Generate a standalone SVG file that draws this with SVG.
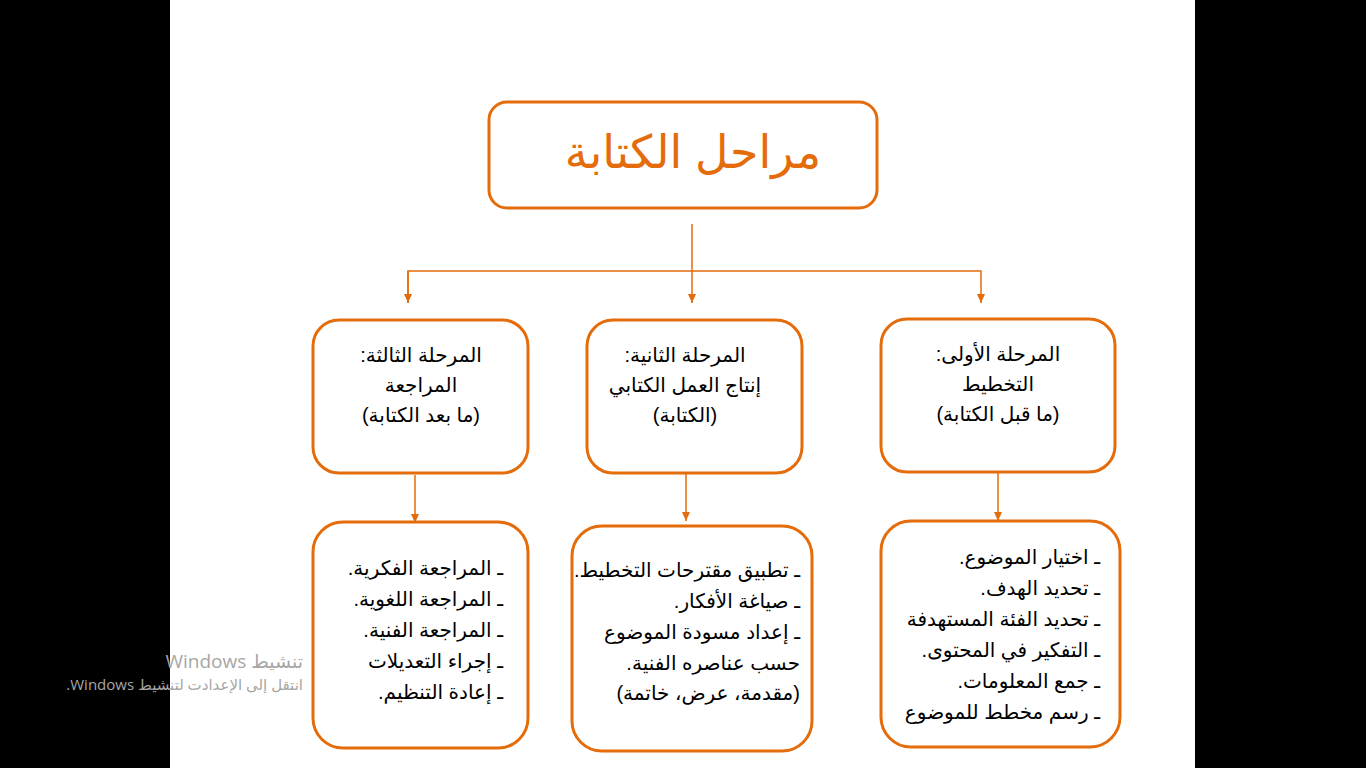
<svg xmlns="http://www.w3.org/2000/svg" width="1366" height="768" viewBox="0 0 1366 768">
<style>
.box{fill:#ffffff;stroke:#E46C0A;stroke-width:3}
.ln{fill:none;stroke:#E46C0A;stroke-width:1.5}
.t{font-family:"Liberation Sans","DejaVu Sans",sans-serif;font-size:20px;fill:#000000;direction:rtl}
.c{text-anchor:middle}
.r{text-anchor:start}
.title{font-family:"Liberation Sans","DejaVu Sans",sans-serif;font-size:46px;fill:#E46C0A;text-anchor:middle;direction:rtl}
.wm{font-family:"Open Sans","DejaVu Sans",sans-serif;fill:#a6a6a6;direction:rtl;text-anchor:start}
</style>
<defs>
<marker id="ad" markerWidth="10" markerHeight="10" refX="5" refY="10" markerUnits="userSpaceOnUse" viewBox="0 0 10 10">
<path d="M1,1 L9,1 L5,10 Z" fill="#E46C0A"/>
</marker>
</defs>
<rect x="0" y="0" width="1366" height="768" fill="#000000"/>
<rect x="170" y="0" width="1025" height="768" fill="#ffffff"/>

<g id="connectors">
<line class="ln" x1="692" y1="224" x2="692" y2="303" marker-end="url(#ad)"/>
<polyline class="ln" points="408,303 408,271 981,271 981,303" marker-end="url(#ad)"/>
<line class="ln" x1="408" y1="271" x2="408" y2="303" marker-end="url(#ad)"/>
<line class="ln" x1="415" y1="475" x2="415" y2="523" marker-end="url(#ad)"/>
<line class="ln" x1="686" y1="474" x2="686" y2="521" marker-end="url(#ad)"/>
<line class="ln" x1="998" y1="473" x2="998" y2="521" marker-end="url(#ad)"/>
</g>

<g id="title">
<rect class="box" x="489" y="102" width="388" height="106" rx="18"/>
<text class="title" x="693" y="168">مراحل الكتابة</text>
</g>

<g id="stage3">
<rect class="box" x="313" y="320" width="215" height="153" rx="26"/>
<text class="t c" x="421" y="362">المرحلة الثالثة:</text>
<text class="t c" x="421" y="392">المراجعة</text>
<text class="t c" x="421" y="422">(ما بعد الكتابة)</text>
</g>

<g id="stage2">
<rect class="box" x="587" y="320" width="215" height="153" rx="26"/>
<text class="t c" x="685" y="362">المرحلة الثانية:</text>
<text class="t c" x="685" y="392">إنتاج العمل الكتابي</text>
<text class="t c" x="685" y="422">(الكتابة)</text>
</g>

<g id="stage1">
<rect class="box" x="881" y="319" width="234" height="153" rx="26"/>
<text class="t c" x="998" y="361">المرحلة الأولى:</text>
<text class="t c" x="998" y="391">التخطيط</text>
<text class="t c" x="998" y="421">(ما قبل الكتابة)</text>
</g>

<g id="details3">
<rect class="box" x="313" y="522" width="215" height="226" rx="30"/>
<text class="t r" x="503" y="575">ـ المراجعة الفكرية.</text>
<text class="t r" x="503" y="606">ـ المراجعة اللغوية.</text>
<text class="t r" x="503" y="637">ـ المراجعة الفنية.</text>
<text class="t r" x="503" y="668">ـ إجراء التعديلات</text>
<text class="t r" x="503" y="699">ـ إعادة التنظيم.</text>
</g>

<g id="details2">
<rect class="box" x="572" y="526" width="240" height="225" rx="30"/>
<text class="t r" x="800" y="577">ـ تطبيق مقترحات التخطيط.</text>
<text class="t r" x="800" y="608">ـ صياغة الأفكار.</text>
<text class="t r" x="800" y="639">ـ إعداد مسودة الموضوع</text>
<text class="t r" x="800" y="670">حسب عناصره الفنية.</text>
<text class="t r" x="800" y="700">(مقدمة، عرض، خاتمة)</text>
</g>

<g id="details1">
<rect class="box" x="881" y="521" width="239" height="226" rx="30"/>
<text class="t r" x="1100" y="564">ـ اختيار الموضوع.</text>
<text class="t r" x="1100" y="595">ـ تحديد الهدف.</text>
<text class="t r" x="1100" y="626">ـ تحديد الفئة المستهدفة</text>
<text class="t r" x="1100" y="657">ـ التفكير في المحتوى.</text>
<text class="t r" x="1100" y="688">ـ جمع المعلومات.</text>
<text class="t r" x="1100" y="719">ـ رسم مخطط للموضوع</text>
</g>

<g id="watermark">
<text class="wm" x="303" y="668" font-size="19">تنشيط Windows</text>
<text class="wm" x="303" y="690" font-size="15">انتقل إلى الإعدادت لتنشيط Windows.</text>
</g>
</svg>
